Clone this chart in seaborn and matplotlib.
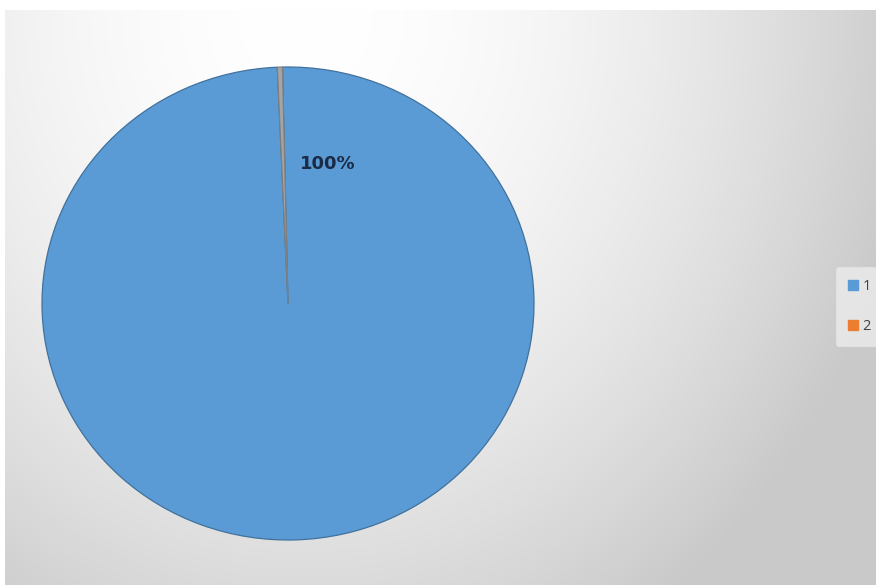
import numpy as np
import matplotlib
matplotlib.use("Agg")
import matplotlib.pyplot as plt
from matplotlib.lines import Line2D
import seaborn as sns

# Series data
categories = ["1", "2"]
values = [99.67, 0.33]
slice_colors = ["#5B9BD5", "#A5A5A5"]
legend_colors = ["#5B9BD5", "#ED7D31"]

sns.set_theme(style="white")
plt.rcParams["font.family"] = ["Open Sans", "DejaVu Sans"]

W, H = 876, 585
fig = plt.figure(figsize=(W / 100, H / 100), dpi=100)
fig.patch.set_facecolor("white")

# Chart-area background: soft grey gradient, white near the top, darker to the right and bottom
bg = fig.add_axes([5 / W, 0, 1 - 5 / W, (H - 10) / H])
bw, bh = W - 5, H - 10
xx, yy = np.meshgrid(np.arange(bw), np.arange(bh))
r = np.sqrt(((xx - 300) / 600.0) ** 2 + (yy / 700.0) ** 2)
shade = 1.0 - np.clip(0.2 * r ** 1.8, 0, 0.21)
bg.imshow(np.dstack([shade] * 3), aspect="auto", extent=(0, 1, 0, 1), origin="upper")
bg.set_axis_off()

# Pie
ax = fig.add_axes([(288 - 246) / W, 45 / H, 492 / W, 473 / H])
ax.patch.set_alpha(0)
total = sum(values)
wedges, _ = ax.pie(
    values,
    colors=slice_colors,
    startangle=91.3,
    counterclock=False,
    radius=1.0,
    wedgeprops=dict(edgecolor="#41719C", linewidth=0.9),
)
wedges[1].set_edgecolor("#7F7F7F")
ax.set_aspect("auto")
ax.set_xlim(-1.0, 1.0)
ax.set_ylim(-1.0, 1.0)
ax.set_axis_off()

# Data label for the dominant slice
share = values[0] / total * 100
ax.text(0.16, 0.59, f"{share:.0f}%", ha="center", va="center",
        fontsize=13, fontweight="bold", color="#1B2A45", family="DejaVu Sans")

# Legend on the right edge
handles = [Line2D([0], [0], marker="s", linestyle="none", markersize=7,
                  markerfacecolor=c, markeredgecolor=c) for c in legend_colors]
leg = fig.legend(handles, categories, loc="upper left",
                 bbox_to_anchor=(836 / W, 1 - 267 / H), borderaxespad=0,
                 frameon=True, fontsize=10.5, labelspacing=1.75,
                 handlelength=0.7, handletextpad=0.3, borderpad=0.8,
                 labelcolor="#404040")
leg.get_frame().set_facecolor("#ECECEC")
leg.get_frame().set_edgecolor("#E4E4E4")
leg.get_frame().set_linewidth(0.8)

fig.savefig("out.png", dpi=100)
